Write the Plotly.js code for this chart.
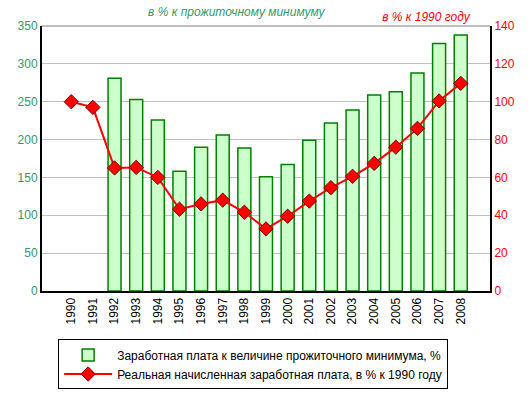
<!DOCTYPE html>
<html><head><meta charset="utf-8">
<script src="https://cdn.plot.ly/plotly-3.0.1.min.js"></script>
<style>html,body{margin:0;padding:0;background:#fff}#chart{width:528px;height:393px}</style>
</head><body><div id="chart"></div>
<script>
const years = ['1990','1991','1992','1993','1994','1995','1996','1997','1998','1999','2000','2001','2002','2003','2004','2005','2006','2007','2008'];
const wageToMinimum = [null,null,281,253,226,158,190,206,189,151,167,199,222,239,259,263,288,327,338];
const realWageIndex = [100,97,65,65.3,60,43.2,46,48,41.6,32.8,39.5,47.5,54.6,60.6,67.4,76,85.9,100.4,109.7];
const barName = 'Заработная плата к величине прожиточного минимума, %';
const lineName = 'Реальная начисленная заработная плата, в % к 1990 году';
const leftTitle = 'в % к прожиточному минимуму';
const rightTitle = 'в % к 1990 году';

const font = 'Arial, "Liberation Sans", sans-serif';
const traces = [
  {type:'bar', x:years, y:wageToMinimum, name:barName, yaxis:'y',
   marker:{color:'#ccffcc', line:{color:'#008000', width:1.5}}},
  {type:'scatter', mode:'lines+markers', x:years, y:realWageIndex, name:lineName, yaxis:'y2',
   line:{color:'#ff0000', width:2},
   marker:{symbol:'diamond', size:11, color:'#ff0000', line:{color:'#800000', width:1}}}
];
const layout = {
  width:528, height:393,
  margin:{l:42, r:38, t:26, b:102, autoexpand:false},
  paper_bgcolor:'#fff', plot_bgcolor:'#fff',
  font:{family:font, size:12, color:'#000'},
  bargap:0.4,
  showlegend:true,
  legend:{x:0.036, y:-0.183, xanchor:'left', yanchor:'top', bgcolor:'#fff',
          bordercolor:'#000', borderwidth:1, font:{family:font, size:12, color:'#000'},
          tracegroupgap:0, itemwidth:48},
  xaxis:{type:'category', tickangle:-90, showline:true, linecolor:'#000', linewidth:2, automargin:false,
         ticks:'', tickfont:{family:font, size:12, color:'#000'}, showgrid:false, zeroline:false},
  yaxis:{range:[0,350], dtick:50, showline:true, linecolor:'#000', linewidth:2, ticks:'', automargin:false,
         gridcolor:'#c0c0c0', gridwidth:1, zeroline:false,
         tickfont:{family:font, size:12, color:'#339966'}},
  yaxis2:{range:[0,140], dtick:20, overlaying:'y', side:'right', showline:true, linecolor:'#000', automargin:false,
          linewidth:2, ticks:'', showgrid:false, zeroline:false,
          tickfont:{family:font, size:12, color:'#ff0000'}},
  shapes:[{type:'line', xref:'paper', yref:'paper', x0:0, x1:1, y0:1, y1:1,
           line:{color:'#808080', width:1}}],
  annotations:[
    {text:leftTitle, xref:'paper', yref:'paper', x:0.237, y:1, yanchor:'bottom', yshift:5,
     showarrow:false, font:{family:font, size:12, color:'#339966'}},
    {text:rightTitle, xref:'paper', yref:'paper', x:0.958, xanchor:'right', y:1, yanchor:'bottom', yshift:0,
     showarrow:false, font:{family:font, size:12, color:'#ff0000'}}
  ]
};
Plotly.newPlot('chart', traces, layout, {displayModeBar:false, staticPlot:true}).then(()=>{
  document.querySelectorAll('.annotation-text').forEach(t=>t.style.fontStyle='italic');
});
</script></body></html>
